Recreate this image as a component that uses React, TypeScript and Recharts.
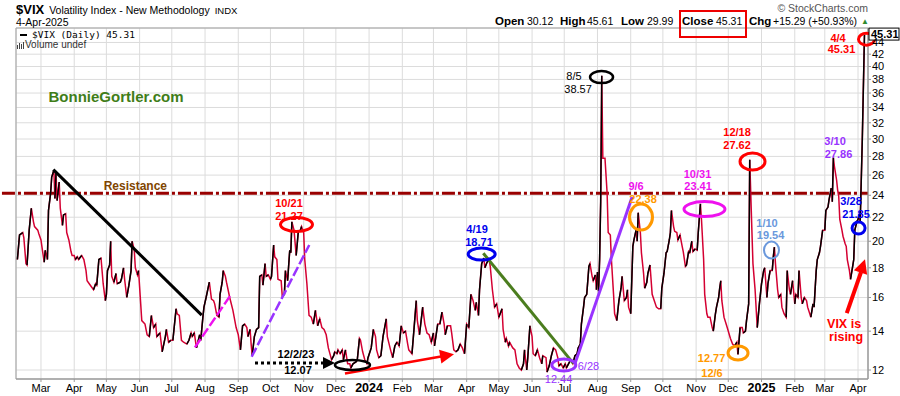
import React from "react";
import {
  LineChart,
  Line,
  XAxis,
  YAxis,
  CartesianGrid,
  ReferenceLine,
  ReferenceDot,
  ReferenceArea,
} from "recharts";

// day numbers count from 1 Jan 2023 (day 0)
const days2023 = [
  37, 39, 42, 43, 45, 46, 48, 50, 52, 53, 56, 57, 59, 60, 62, 63, 65, 66, 68, 69,
  71, 72, 73, 74, 76, 77, 79, 80, 82, 83, 85, 87, 88, 90, 91, 93, 94, 96, 97, 99,
  101, 102, 104, 105, 108, 110, 111, 113, 115, 117, 119, 120, 121, 123, 124, 125, 127, 129, 130, 133,
  134, 136, 137, 139, 141, 143, 144, 146, 147, 149, 150, 152, 153, 156, 158, 160, 162, 164, 166, 167,
  170, 171, 172, 175, 176, 178, 180, 182, 185, 186, 188, 190, 192, 195, 197, 199, 200, 202, 204, 207,
  208, 210, 211, 213, 216, 218, 220, 221, 223, 225, 226, 228, 229, 231, 232, 235, 238, 241, 243, 245,
  247, 249, 251, 252, 254, 255, 256, 258, 260, 262, 263, 265, 266, 268, 269, 271, 273, 274, 276, 277,
  279, 280, 283, 284, 286, 287, 289, 291, 292, 293, 295, 297, 299, 301, 302, 304, 305, 307, 309, 311,
  313, 315, 317, 319, 321, 323, 325, 327, 330, 332, 333, 335, 336, 338, 340, 341, 343, 345, 347, 348,
  350, 353, 354, 356, 357, 359, 361, 363, 364,
];
const vix2023 = [
  18.6, 20.5, 20.7, 20.3, 18.3, 18.2, 20.9, 22.8, 21.6, 21.2, 20.9, 20.6, 20.1, 19.5, 18.4, 19.3, 18.6, 22.6, 24.2, 25.8,
  26.5, 23.7, 26.2, 23.5, 25.3, 22.8, 21.3, 22.2, 22.3, 20.7, 20.1, 19.2, 18.9, 18.9, 18.6, 18.8, 18.6, 18.8, 18.9, 18.6,
  17.8, 17.1, 16.9, 16.8, 16.5, 16.9, 16.8, 18.6, 18.7, 16.9, 15.8, 16.2, 17.8, 18.2, 20.0, 17.4, 17.0, 17.6, 16.9, 17.0,
  17.2, 18.0, 17.2, 16.0, 16.8, 17.8, 20.0, 19.3, 18.0, 17.5, 17.8, 15.6, 14.6, 14.4, 13.8, 13.7, 14.9, 14.2, 14.4, 13.7,
  13.9, 13.4, 12.9, 13.7, 14.1, 13.4, 13.5, 13.5, 15.3, 15.0, 14.9, 13.5, 13.4, 13.3, 13.5, 13.9, 13.7, 13.9, 13.1, 13.8,
  13.5, 14.8, 15.4, 16.0, 17.0, 15.9, 15.8, 15.6, 14.9, 14.8, 16.2, 17.0, 17.8, 17.4, 17.0, 16.0, 15.2, 14.2, 13.8, 13.0,
  14.3, 14.4, 14.2, 13.7, 14.1, 13.3, 12.7, 13.7, 14.1, 14.2, 17.4, 17.5, 16.8, 18.3, 17.4, 17.5, 17.2, 17.4, 19.7, 18.8,
  18.6, 17.2, 17.1, 16.1, 16.2, 17.8, 17.1, 19.3, 19.1, 21.6, 20.9, 18.9, 20.8, 20.9, 21.2, 20.7, 18.6, 16.9, 14.9, 14.8,
  14.4, 15.2, 14.3, 14.7, 14.2, 14.1, 13.8, 13.1, 12.5, 12.7, 12.9, 12.8, 13.0, 12.8, 13.0, 12.5, 13.0, 12.3, 12.3, 12.1,
  12.3, 12.4, 12.5, 13.6, 13.5, 12.9, 12.5, 12.3, 12.6,
];

const days2024 = [
  367, 369, 371, 372, 374, 376, 378, 381, 382, 385, 387, 389, 391, 393, 395, 397, 399, 401, 402, 405,
  407, 409, 410, 412, 415, 417, 419, 421, 423, 425, 426, 429, 431, 433, 435, 436, 438, 441, 442, 444,
  446, 448, 450, 452, 454, 456, 458, 460, 462, 464, 465, 467, 468, 470, 472, 473, 475, 477, 478, 480,
  482, 484, 486, 489, 490, 492, 493, 495, 496, 499, 501, 503, 505, 507, 509, 510, 512, 513, 515, 517,
  518, 520, 522, 524, 526, 527, 530, 531, 533, 535, 537, 539, 541, 542, 544, 546, 548, 549, 551, 553,
  555, 557, 559, 560, 562, 563, 565, 566, 568, 570, 571, 573, 574, 576, 577, 578, 579, 580, 581, 582,
  583, 585, 587, 588, 590, 591, 593, 594, 596, 598, 600, 601, 603, 605, 606, 607, 609, 611, 612, 614,
  615, 616, 618, 619, 621, 622, 624, 625, 627, 629, 631, 633, 635, 637, 638, 640, 642, 643, 645, 646,
  647, 649, 650, 652, 653, 655, 657, 658, 660, 661, 663, 664, 666, 667, 669, 671, 672, 674, 675, 677,
  678, 680, 681, 683, 685, 686, 688, 689, 691, 692, 693, 694, 696, 698, 699, 702, 704, 706, 708, 709,
  711, 713, 714, 716, 717, 719, 720, 722, 723, 725, 727, 729,
];
const vix2024 = [
  13.1, 14.1, 13.7, 13.0, 12.6, 12.7, 13.7, 14.7, 13.7, 13.0, 12.6, 13.2, 13.4, 13.2, 14.3, 13.9, 14.0, 13.3, 13.0, 12.8,
  14.2, 15.8, 14.6, 13.8, 15.4, 14.4, 13.9, 13.8, 13.4, 13.9, 13.2, 14.4, 14.4, 15.1, 14.4, 13.8, 14.3, 14.3, 13.9, 13.0,
  12.9, 13.0, 13.3, 13.1, 12.8, 14.4, 14.2, 16.2, 15.8, 15.2, 15.7, 14.9, 16.5, 18.3, 18.71, 18.0, 18.4, 18.6, 18.1, 16.5,
  15.4, 15.6, 14.8, 15.3, 14.1, 13.4, 13.6, 13.2, 13.4, 13.1, 13.0, 12.3, 12.1, 12.0, 12.3, 13.0, 12.0, 12.6, 14.3, 13.7,
  12.8, 12.7, 13.0, 12.6, 12.3, 12.7, 12.6, 11.9, 12.2, 12.7, 13.1, 13.0, 12.6, 12.2, 12.3, 12.1, 12.3, 12.1, 12.3, 12.5,
  12.3, 12.7, 12.8, 13.1, 13.3, 14.4, 15.4, 16.0, 16.2, 18.1, 18.3, 17.4, 17.1, 17.5, 16.5, 17.7, 16.4, 18.6, 23.4, 38.57,
  27.8, 27.8, 24.2, 20.7, 20.5, 18.6, 16.2, 15.0, 14.6, 15.8, 16.6, 17.4, 15.8, 16.0, 16.5, 15.4, 15.0, 19.6, 20.1, 20.9,
  20.0, 22.4, 20.7, 19.1, 17.6, 16.6, 17.0, 17.6, 18.2, 16.2, 15.8, 15.4, 15.3, 15.3, 16.6, 17.6, 19.1, 19.2, 20.1, 20.7,
  22.6, 21.2, 20.8, 20.7, 20.1, 20.5, 19.6, 19.2, 18.1, 18.2, 19.2, 19.1, 20.0, 19.2, 19.4, 19.3, 20.7, 23.2, 21.8, 18.6,
  16.2, 15.0, 14.8, 14.8, 14.2, 14.0, 15.0, 15.4, 16.0, 16.6, 17.1, 15.8, 14.8, 14.4, 14.2, 13.6, 13.3, 13.2, 13.4, 12.77,
  14.2, 14.2, 13.9, 14.0, 14.6, 15.6, 27.62, 20.9, 18.3, 16.5, 14.2, 15.6,
];

const days2025 = [
  731, 733, 734, 736, 737, 739, 741, 742, 743, 744, 746, 747, 749, 750, 752, 754, 755, 757, 758, 760,
  762, 763, 765, 766, 768, 769, 771, 773, 774, 776, 777, 779, 780, 782, 783, 785, 786, 788, 790, 791,
  793, 794, 796, 797, 798, 799, 801, 802, 803, 804, 806, 807, 809, 810, 811, 813, 814, 816, 817, 818,
  820, 821, 822, 823, 825, 827,
];
const vix2025 = [
  16.9, 17.8, 18.0, 16.0, 16.9, 17.8, 17.8, 18.8, 19.54, 18.3, 16.5, 16.0, 16.2, 15.4, 15.0, 14.8, 17.8, 16.5, 16.2, 17.1,
  15.6, 16.2, 16.0, 17.8, 16.0, 15.6, 16.0, 15.8, 15.4, 15.0, 14.8, 15.6, 15.4, 17.8, 18.6, 19.1, 19.6, 20.9, 20.9, 22.6,
  22.9, 23.6, 24.7, 23.4, 27.86, 26.9, 25.5, 24.5, 23.9, 21.8, 20.9, 20.4, 19.8, 19.6, 18.6, 17.8, 17.2, 18.1, 18.6, 20.9,
  21.65, 21.8, 22.3, 21.5, 30.02, 45.31,
];

const monthTickDates = [
  "2023-03-01", "2023-04-01", "2023-05-01", "2023-06-01", "2023-07-01", "2023-08-01",
  "2023-09-01", "2023-10-01", "2023-11-01", "2023-12-01", "2024-01-01", "2024-02-01",
  "2024-03-01", "2024-04-01", "2024-05-01", "2024-06-01", "2024-07-01", "2024-08-01",
  "2024-09-01", "2024-10-01", "2024-11-01", "2024-12-01", "2025-01-01", "2025-02-01",
  "2025-03-01", "2025-04-01",
];
const monthTickLabels = [
  "Mar", "Apr", "May", "Jun", "Jul", "Aug", "Sep", "Oct", "Nov", "Dec", "2024", "Feb",
  "Mar", "Apr", "May", "Jun", "Jul", "Aug", "Sep", "Oct", "Nov", "Dec", "2025", "Feb",
  "Mar", "Apr",
];
const yTicks = [12, 14, 16, 18, 20, 22, 24, 26, 28, 30, 32, 34, 36, 38, 40, 42, 44];

const resistanceLevel = 24.2;
const lastClose = 45.31;

// header quote, with the x where each piece starts
const quoteParts = [
  { text: "Open", x: 495, bold: true },
  { text: "30.12", x: 527 },
  { text: "High", x: 560, bold: true },
  { text: "45.61", x: 587 },
  { text: "Low", x: 621, bold: true },
  { text: "29.99", x: 647 },
  { text: "Close", x: 682, bold: true },
  { text: "45.31", x: 716 },
  { text: "Chg", x: 749, bold: true },
  { text: "+15.29 (+50.93%)", x: 773 },
];

const X_DOMAIN: [number, number] = [35.7, 830.3];
const Y_DOMAIN: [number, number] = [11.58, 46.6];

const FONT = "'Liberation Sans', Arial, Helvetica, sans-serif";
const RED = "#ff0000";
const LINE_RED = "#d40032";
const BLUE = "#0000ee";
const LIGHTBLUE = "#6a98dc";
const PURPLE = "#9933ff";
const MAGENTA = "#ee11ee";
const ORANGE = "#ff9900";
const GREEN = "#4b7d1e";

const BASE = Date.UTC(2023, 0, 1);
const dayOf = (iso: string) => Math.round((Date.parse(iso) - BASE) / 86400000);
const monthTicks = monthTickDates.map(dayOf);

// annotation texts, placed at (day, value)
type Note = { day: number; value: number; text: string; color: string; size?: number; bold?: boolean };
const notes: Note[] = [
  { day: 147, value: 24.89, text: "Resistance", color: "#7f4500", size: 12, bold: true },
  { day: 129, value: 35.56, text: "BonnieGortler.com", color: "#3f7d18", size: 15, bold: true },
  { day: 290.3, value: 23.27, text: "10/21", color: RED, bold: true },
  { day: 290.3, value: 22.1, text: "21.27", color: RED, bold: true },
  { day: 296.8, value: 12.79, text: "12/2/23", color: "#000", bold: true },
  { day: 298.7, value: 12.0, text: "12.07", color: "#000", bold: true },
  { day: 465.7, value: 20.99, text: "4/19", color: BLUE, bold: true },
  { day: 467.5, value: 19.93, text: "18.71", color: BLUE, bold: true },
  { day: 541.7, value: 11.56, text: "12.44", color: PURPLE },
  { day: 569.6, value: 12.19, text: "6/28", color: PURPLE },
  { day: 556.1, value: 38.5, text: "8/5", color: "#000" },
  { day: 559.9, value: 36.57, text: "38.57", color: "#000" },
  { day: 614, value: 24.89, text: "9/6", color: MAGENTA, bold: true },
  { day: 620.5, value: 23.64, text: "22.38", color: ORANGE, bold: true },
  { day: 671.3, value: 26.11, text: "10/31", color: MAGENTA, bold: true },
  { day: 671.8, value: 24.89, text: "23.41", color: MAGENTA, bold: true },
  { day: 708.2, value: 30.9, text: "12/18", color: RED, bold: true },
  { day: 708.2, value: 29.28, text: "27.62", color: RED, bold: true },
  { day: 684.4, value: 12.58, text: "12.77", color: ORANGE, bold: true },
  { day: 684.8, value: 11.88, text: "12/6", color: ORANGE, bold: true },
  { day: 736.1, value: 21.54, text: "1/10", color: LIGHTBLUE, bold: true },
  { day: 739.4, value: 20.5, text: "19.54", color: LIGHTBLUE, bold: true },
  { day: 799.6, value: 29.75, text: "3/10", color: PURPLE, bold: true },
  { day: 802.8, value: 28.31, text: "27.86", color: PURPLE, bold: true },
  { day: 814.5, value: 23.45, text: "3/28", color: BLUE, bold: true },
  { day: 819.2, value: 22.27, text: "21.85", color: BLUE, bold: true },
  { day: 802.4, value: 44.85, text: "4/4", color: RED, bold: true },
  { day: 805.6, value: 42.85, text: "45.31", color: RED, bold: true },
  { day: 808, value: 14.43, text: "VIX is", color: RED, size: 12.5, bold: true },
  { day: 809.9, value: 13.68, text: "rising", color: RED, size: 12.5, bold: true },
];

// circled highlights
const rings = [
  { day: 297.3, value: 21.37, rx: 16, ry: 7, color: RED, width: 3 },
  { day: 349.5, value: 12.24, rx: 17.5, ry: 5, color: "#000", width: 2.5 },
  { day: 470.0, value: 19.01, rx: 13.5, ry: 6, color: BLUE, width: 3 },
  { day: 546.6, value: 12.24, rx: 12, ry: 6, color: PURPLE, width: 3 },
  { day: 581.8, value: 38.35, rx: 11.5, ry: 6, color: "#000", width: 2.5 },
  { day: 618.6, value: 22.01, rx: 11.5, ry: 13, color: ORANGE, width: 3 },
  { day: 677.8, value: 22.72, rx: 20.5, ry: 7.5, color: MAGENTA, width: 3 },
  { day: 722.6, value: 27.43, rx: 12.5, ry: 8.5, color: RED, width: 3 },
  { day: 709.1, value: 12.84, rx: 10, ry: 7, color: ORANGE, width: 3 },
  { day: 740.3, value: 19.31, rx: 7.5, ry: 8.5, color: LIGHTBLUE, width: 2 },
  { day: 821.5, value: 21.07, rx: 6.5, ry: 6, color: BLUE, width: 3 },
  { day: 828.9, value: 44.58, rx: 8, ry: 6, color: RED, width: 3 },
];

// drawn trend lines
const trendLines = [
  { from: [70.5, 26.57], to: [208.9, 14.92], color: "#000", width: 3, dash: undefined },
  { from: [202.6, 13.13], to: [235.3, 16.09], color: MAGENTA, width: 2.5, dash: "10 3" },
  { from: [255.5, 12.65], to: [309.2, 19.7], color: PURPLE, width: 2.5, dash: "10 3" },
  { from: [471.5, 19.07], to: [555.5, 12.32], color: GREEN, width: 3, dash: undefined },
  { from: [557.1, 12.32], to: [610.3, 23.83], color: PURPLE, width: 3, dash: undefined },
  { from: [258.6, 12.34], to: [322, 12.34], color: "#000", width: 3, dash: "3 3" },
  { from: [342.5, 11.84], to: [432.1, 12.66], color: RED, width: 2.5, dash: undefined },
  { from: [810.5, 15.04], to: [823.8, 17.7], color: RED, width: 4, dash: undefined },
];

const arrowHeads = [
  { day: 333.2, value: 12.34, angle: 0, color: "#000", len: 12, half: 6 },
  { day: 444.2, value: 12.77, angle: -9.5, color: RED, len: 14, half: 7 },
  { day: 827.5, value: 18.63, angle: -71.3, color: RED, len: 14, half: 7 },
];

const days = [...days2023, ...days2024, ...days2025];
const closes = [...vix2023, ...vix2024, ...vix2025];

type Row = { day: number; vix: number; upA: number | null; upB: number | null };
const rows: Row[] = days.map((d, i) => ({ day: d, vix: closes[i], upA: null, upB: null }));

// rising stretches are drawn black, alternating between two series so they never join
let run = -1;
let inRun = false;
for (let i = 0; i < rows.length - 1; i++) {
  if (closes[i + 1] > closes[i]) {
    if (!inRun) {
      run++;
      inRun = true;
    }
    const key = run % 2 === 0 ? "upA" : "upB";
    rows[i][key] = closes[i];
    rows[i + 1][key] = closes[i + 1];
  } else {
    inRun = false;
  }
}

function MonthTick({ x, y, payload }: any) {
  const label = monthTickLabels[monthTicks.indexOf(payload.value)] ?? "";
  const isYear = /^\d{4}$/.test(label);
  return (
    <text
      x={x}
      y={y}
      dy={9}
      textAnchor="middle"
      fontFamily={FONT}
      fontSize={isYear ? 12.5 : 11}
      fontWeight={isYear ? "bold" : "normal"}
      fill="#000"
    >
      {label}
    </text>
  );
}

function Header() {
  return (
    <div style={{ position: "absolute", inset: 0, pointerEvents: "none", fontFamily: FONT, color: "#000" }}>
      <div style={{ position: "absolute", left: 16, top: 1, whiteSpace: "nowrap", lineHeight: "16px" }}>
        <span style={{ fontWeight: "bold", fontSize: 13 }}>$VIX</span>
        <span style={{ fontSize: 10.5, marginLeft: 5 }}>Volatility Index - New Methodology</span>
        <span style={{ fontSize: 9.5, marginLeft: 5 }}>INDX</span>
      </div>
      <div style={{ position: "absolute", left: 16, top: 16, fontSize: 10.5, lineHeight: "12px" }}>4-Apr-2025</div>
      <div
        style={{
          position: "absolute",
          right: 32,
          top: 2,
          fontSize: 10.5,
          color: "#555",
          lineHeight: "12px",
        }}
      >
        © StockCharts.com
      </div>
      {quoteParts.map((q) => (
        <div
          key={q.x}
          style={{
            position: "absolute",
            left: q.x,
            top: 15,
            fontSize: q.bold ? 11.5 : 10.5,
            fontWeight: q.bold ? "bold" : "normal",
            whiteSpace: "nowrap",
            lineHeight: "13px",
          }}
        >
          {q.text}
        </div>
      ))}
      <div style={{ position: "absolute", left: 861, top: 17, fontSize: 8, color: "#2e8b2e" }}>▲</div>
      <div
        style={{
          position: "absolute",
          left: 679,
          top: 10,
          width: 68,
          height: 28,
          border: "2px solid #ee0000",
          boxSizing: "border-box",
        }}
      />
      <div style={{ position: "absolute", left: 20, top: 34, width: 7, height: 2, background: "#000" }} />
      <div
        style={{
          position: "absolute",
          left: 32,
          top: 30,
          fontFamily: "'DejaVu Sans Mono', monospace",
          fontSize: 9.5,
          lineHeight: "10px",
          whiteSpace: "nowrap",
        }}
      >
        $VIX (Daily) 45.31
      </div>
      <div style={{ position: "absolute", left: 17, top: 42, display: "flex", alignItems: "flex-end", gap: 1 }}>
        <div style={{ width: 1, height: 4, background: "#444" }} />
        <div style={{ width: 1, height: 6, background: "#444" }} />
        <div style={{ width: 1, height: 5, background: "#444" }} />
        <div style={{ width: 1, height: 7, background: "#444" }} />
      </div>
      <div
        style={{ position: "absolute", left: 25, top: 40, fontSize: 10, lineHeight: "10px", color: "#333" }}
      >
        Volume undef
      </div>
    </div>
  );
}

export default function App() {
  return (
    <div style={{ position: "relative", width: 900, height: 396, background: "#fff" }}>
      <style>{"body{margin:0}"}</style>
      <LineChart
        width={900}
        height={396}
        data={rows}
        margin={{ top: 28, right: 0, bottom: 0, left: 16 }}
      >
        <CartesianGrid stroke="#dcdcdc" />
        <XAxis
          dataKey="day"
          type="number"
          domain={X_DOMAIN}
          allowDataOverflow
          ticks={monthTicks}
          interval={0}
          tick={<MonthTick />}
          tickSize={3}
          tickMargin={1}
          height={17}
          axisLine={{ stroke: "#999" }}
          tickLine={{ stroke: "#999" }}
        />
        <YAxis
          orientation="right"
          scale="log"
          domain={Y_DOMAIN}
          allowDataOverflow
          ticks={yTicks}
          interval={0}
          width={32}
          tickSize={3}
          tickMargin={1}
          tick={{ fontSize: 11, fill: "#000", fontFamily: FONT }}
          axisLine={{ stroke: "#999" }}
          tickLine={{ stroke: "#999" }}
        />
        <ReferenceArea
          x1={X_DOMAIN[0]}
          x2={X_DOMAIN[1]}
          y1={Y_DOMAIN[0]}
          y2={Y_DOMAIN[1]}
          fill="none"
          stroke="#a0a0a0"
          strokeWidth={1}
        />
        <ReferenceLine
          segment={[
            { x: 22.6, y: resistanceLevel },
            { x: X_DOMAIN[1], y: resistanceLevel },
          ]}
          ifOverflow="visible"
          stroke="#990000"
          strokeWidth={3}
          strokeDasharray="13 3 3 3"
        />
        <Line
          dataKey="vix"
          stroke={LINE_RED}
          strokeWidth={1.5}
          dot={false}
          activeDot={false}
          isAnimationActive={false}
        />
        <Line
          dataKey="upA"
          stroke="#000"
          strokeWidth={1.5}
          dot={false}
          activeDot={false}
          connectNulls={false}
          isAnimationActive={false}
        />
        <Line
          dataKey="upB"
          stroke="#000"
          strokeWidth={1.5}
          dot={false}
          activeDot={false}
          connectNulls={false}
          isAnimationActive={false}
        />
        {trendLines.map((t, i) => (
          <ReferenceLine
            key={"t" + i}
            segment={[
              { x: t.from[0], y: t.from[1] },
              { x: t.to[0], y: t.to[1] },
            ]}
            stroke={t.color}
            strokeWidth={t.width}
            strokeDasharray={t.dash}
            ifOverflow="visible"
          />
        ))}
        {arrowHeads.map((a, i) => (
          <ReferenceDot
            key={"a" + i}
            x={a.day}
            y={a.value}
            ifOverflow="visible"
            shape={(p: any) => {
              const th = (a.angle * Math.PI) / 180;
              const cx = p.cx;
              const cy = p.cy;
              const bx = cx - a.len * Math.cos(th);
              const by = cy - a.len * Math.sin(th);
              const nx = -Math.sin(th) * a.half;
              const ny = Math.cos(th) * a.half;
              return (
                <polygon
                  points={`${cx},${cy} ${bx + nx},${by + ny} ${bx - nx},${by - ny}`}
                  fill={a.color}
                />
              );
            }}
          />
        ))}
        {rings.map((r, i) => (
          <ReferenceDot
            key={"r" + i}
            x={r.day}
            y={r.value}
            ifOverflow="visible"
            shape={(p: any) => (
              <ellipse
                cx={p.cx}
                cy={p.cy}
                rx={r.rx}
                ry={r.ry}
                fill="none"
                stroke={r.color}
                strokeWidth={r.width}
              />
            )}
          />
        ))}
        {notes.map((n, i) => (
          <ReferenceDot
            key={"n" + i}
            x={n.day}
            y={n.value}
            ifOverflow="visible"
            shape={(p: any) => (
              <text
                x={p.cx}
                y={p.cy}
                dy="0.36em"
                textAnchor="middle"
                fill={n.color}
                fontFamily={FONT}
                fontSize={n.size ?? 11}
                fontWeight={n.bold ? "bold" : "normal"}
              >
                {n.text}
              </text>
            )}
          />
        ))}
        <ReferenceDot
          x={X_DOMAIN[1]}
          y={lastClose}
          ifOverflow="visible"
          shape={(p: any) => (
            <g>
              <rect x={p.cx + 1} y={p.cy - 7} width={30} height={12} fill="#fff" stroke="#000" strokeWidth={1} />
              <text x={p.cx + 3} y={p.cy + 3} fontFamily={FONT} fontSize={11} fontWeight="bold" fill="#000">
                {lastClose.toFixed(2)}
              </text>
            </g>
          )}
        />
      </LineChart>
      <Header />
    </div>
  );
}
